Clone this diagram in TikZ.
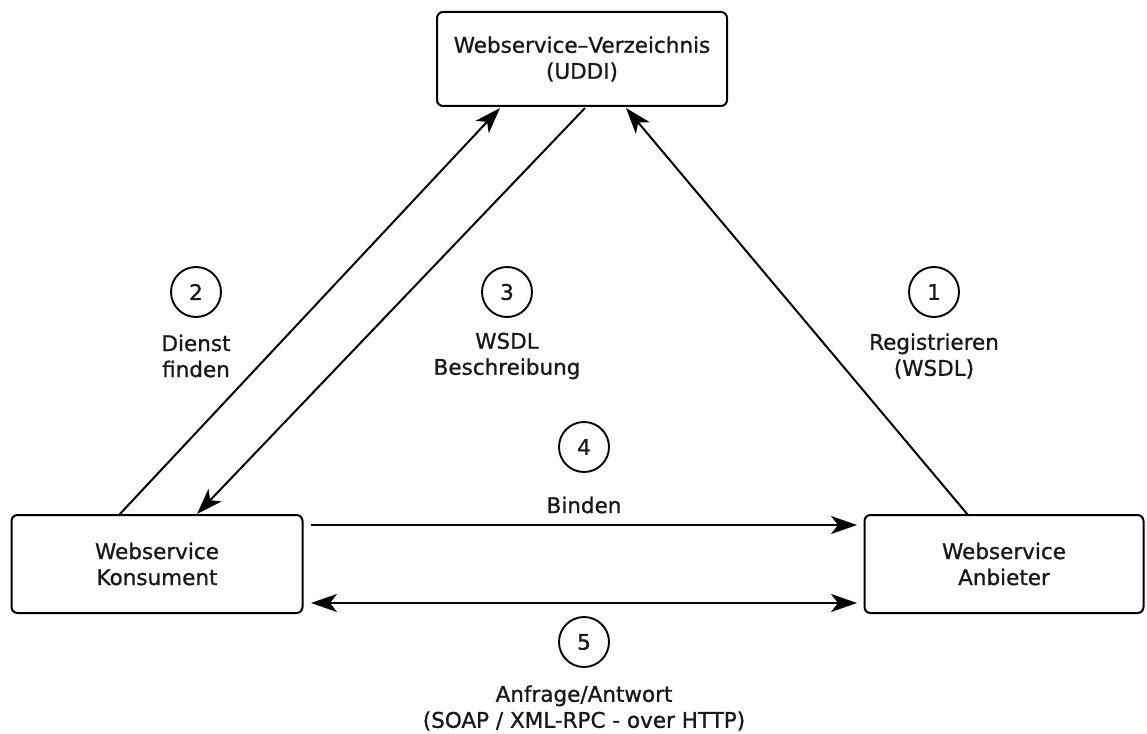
\documentclass[tikz,border=0pt]{standalone}
\usepackage{fontspec}
\setmainfont{DejaVu Sans}[FakeBold=1]
\usetikzlibrary{arrows.meta}
\begin{document}
\begin{tikzpicture}[x=1pt,y=-1pt,
  every node/.style={font=\fontsize{21.5}{26}\selectfont, text=black!90},
  box/.style={draw, line width=2pt, rounded corners=6pt, align=center, inner sep=0pt},
  num/.style={draw, circle, line width=1.9pt, minimum size=50pt, inner sep=0pt},
  lbl/.style={align=center, inner sep=0pt},
  tip/.tip={Stealth[length=26pt,width=18pt,inset=7pt]},
  conn/.style={line width=2pt, -tip},
  bidir/.style={line width=2pt, tip-tip}
]
\useasboundingbox (0,0) rectangle (1147,733);

% the three parties
\node[box, minimum width=290pt, minimum height=94pt] (uddi) at (582,59)
  {Webservice–Verzeichnis\\(UDDI)};
\node[box, minimum width=291pt, minimum height=98pt] (kons) at (157,564)
  {Webservice\\Konsument};
\node[box, minimum width=279pt, minimum height=98pt] (anb) at (1004,564)
  {Webservice\\Anbieter};

% anchor points on the box edges
\coordinate (k2) at (119,515);
\coordinate (u2) at (500,108);
\coordinate (u3) at (585,108);
\coordinate (k3) at (197,514);
\coordinate (a1) at (968,515);
\coordinate (u1) at (626,108);
\coordinate (kb) at (311,525);
\coordinate (ab) at (857,525);
\coordinate (kr) at (311,603);
\coordinate (ar) at (857,603);

% connectors
\draw[conn] (k2) -- (u2);
\draw[conn] (u3) -- (k3);
\draw[conn] (a1) -- (u1);
\draw[conn] (kb) -- (ab);
\draw[bidir] (kr) -- (ar);

% numbered steps
\node[num] (n2) at (196,292) {2};
\node[num] (n3) at (507,292) {3};
\node[num] (n1) at (934,292) {1};
\node[num] (n4) at (584,447) {4};
\node[num] (n5) at (584,642) {5};

% step labels
\node[lbl] (l2) at (196,356) {Dienst\\finden};
\node[lbl] (l3) at (507,356) {WSDL\\Beschreibung};
\node[lbl] (l1) at (934,356) {Registrieren\\(WSDL)};
\node[lbl] (l4) at (584,505) {Binden};
\node[lbl] (l5) at (584,708) {Anfrage/Antwort\\(SOAP / XML-RPC - over HTTP)};
\end{tikzpicture}
\end{document}
